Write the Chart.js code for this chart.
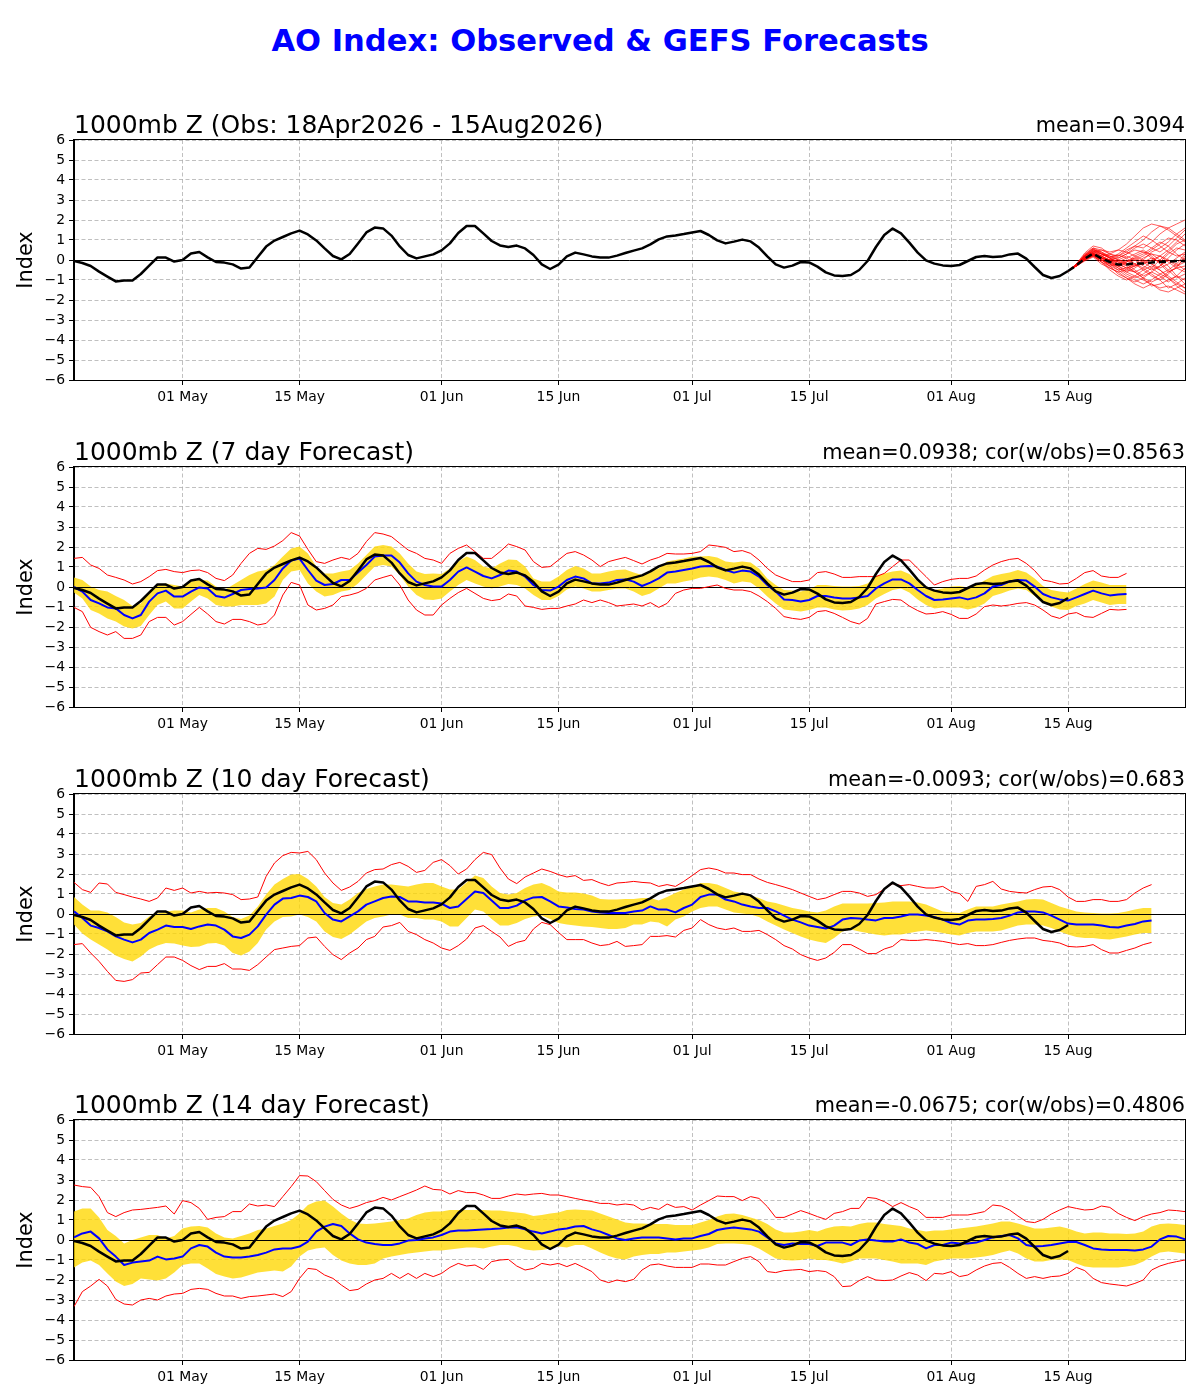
<!DOCTYPE html>
<html><head><meta charset="utf-8">
<script src="https://cdn.jsdelivr.net/npm/chart.js@4.4.1/dist/chart.umd.min.js"></script>
<style>
body{margin:0;background:#fff;width:1200px;height:1400px;position:relative;font-family:"DejaVu Sans",sans-serif;overflow:hidden}
canvas.cv{position:absolute;left:0;width:1200px;height:300px}
.t{position:absolute;line-height:1;white-space:nowrap;color:#000;font-family:"DejaVu Sans",sans-serif}
.tl{font-size:25px}
.tr{font-size:20.8px}
#main{left:0;width:1200px;text-align:center;top:26px;font-size:30.6px;font-weight:bold;color:#0000ff}
</style></head><body>
<canvas class="cv" id="c1" width="1200" height="300" style="top:120px"></canvas>
<canvas class="cv" id="c2" width="1200" height="300" style="top:447px"></canvas>
<canvas class="cv" id="c3" width="1200" height="300" style="top:774px"></canvas>
<canvas class="cv" id="c4" width="1200" height="300" style="top:1100px"></canvas>
<div class="t" id="main">AO Index: Observed &amp; GEFS Forecasts</div>
<div class="t tl" style="left:74px;top:111.8px">1000mb Z (Obs: 18Apr2026 - 15Aug2026)</div>
<div class="t tr" style="right:15px;top:115.4px">mean=0.3094</div>
<div class="t tl" style="left:74px;top:438.8px">1000mb Z (7 day Forecast)</div>
<div class="t tr" style="right:15px;top:442.4px">mean=0.0938; cor(w/obs)=0.8563</div>
<div class="t tl" style="left:74px;top:765.8px">1000mb Z (10 day Forecast)</div>
<div class="t tr" style="right:15px;top:769.4px">mean=-0.0093; cor(w/obs)=0.683</div>
<div class="t tl" style="left:74px;top:1091.8px">1000mb Z (14 day Forecast)</div>
<div class="t tr" style="right:15px;top:1095.4px">mean=-0.0675; cor(w/obs)=0.4806</div>
<script>
// x values are days since 18 Apr 2026
const tickDays = [13, 27, 44, 58, 74, 88, 105, 119];
const tickLabels = ['01 May', '15 May', '01 Jun', '15 Jun', '01 Jul', '15 Jul', '01 Aug', '15 Aug'];
const xMaxDay = 133;

// Observed AO index, 18 Apr .. 15 Aug
const obsIndex = [-0.05,-0.15,-0.3,-0.58,-0.83,-1.07,-1.03,-1.02,-0.7,-0.28,
0.13,0.12,-0.08,0.0,0.32,0.4,0.13,-0.1,-0.13,-0.22,
-0.43,-0.38,0.15,0.67,0.97,1.15,1.33,1.47,1.28,0.98,
0.58,0.2,0.03,0.3,0.83,1.38,1.62,1.58,1.22,0.68,
0.25,0.08,0.18,0.28,0.48,0.83,1.35,1.7,1.7,1.33,
0.95,0.73,0.65,0.72,0.58,0.25,-0.22,-0.45,-0.23,0.18,
0.37,0.28,0.18,0.12,0.12,0.22,0.35,0.47,0.58,0.78,
1.03,1.18,1.23,1.3,1.38,1.45,1.25,0.98,0.83,0.92,
1.02,0.93,0.62,0.18,-0.22,-0.38,-0.28,-0.1,-0.12,-0.33,
-0.62,-0.77,-0.8,-0.75,-0.5,-0.05,0.65,1.25,1.57,1.33,
0.87,0.37,-0.02,-0.18,-0.27,-0.3,-0.25,-0.05,0.15,0.2,
0.15,0.17,0.28,0.32,0.07,-0.35,-0.75,-0.9,-0.8,-0.55];

// GEFS forecast from 15 Aug (day 119 .. 133)
const ensStartDay = 119;
const ensMean = [-0.55,-0.27,0.07,0.32,0.08,-0.1,-0.23,-0.22,-0.17,-0.18,-0.13,-0.1,-0.08,-0.05,-0.05];
const ensMembers = [
[-0.55,-0.2,0.3,0.6,0.5,0.4,0.5,0.8,1.2,1.6,1.8,1.7,1.5,1.2,0.9],
[-0.55,-0.25,0.2,0.45,0.2,-0.1,-0.4,-0.6,-0.8,-1.0,-1.2,-1.4,-1.3,-1.5,-1.7],
[-0.55,-0.3,0.1,0.3,0.1,0.0,0.2,0.5,0.7,0.6,0.9,1.3,1.6,1.8,2.0],
[-0.55,-0.28,0.05,0.25,-0.1,-0.3,-0.5,-0.4,-0.2,0.1,0.3,0.2,-0.1,-0.4,-0.6],
[-0.55,-0.22,0.15,0.5,0.4,0.2,0.0,-0.2,-0.5,-0.8,-0.6,-0.3,0.1,0.5,0.8],
[-0.55,-0.3,0.0,0.2,0.0,-0.2,-0.3,-0.1,0.2,0.4,0.3,0.0,-0.3,-0.8,-1.2],
[-0.55,-0.25,0.25,0.55,0.3,0.1,-0.1,-0.3,-0.6,-0.9,-1.1,-0.9,-0.6,-0.4,-0.3],
[-0.55,-0.3,0.05,0.35,0.2,0.3,0.5,0.4,0.2,0.0,-0.2,-0.5,-0.8,-1.1,-1.4],
[-0.55,-0.27,0.1,0.3,0.0,-0.2,-0.4,-0.7,-0.9,-0.7,-0.4,0.0,0.4,0.8,1.0],
[-0.55,-0.25,0.1,0.25,0.1,0.0,-0.1,-0.2,-0.3,-0.2,0.0,0.2,0.5,0.9,1.3],
[-0.55,-0.3,-0.05,0.15,-0.2,-0.4,-0.6,-0.5,-0.6,-0.9,-1.3,-1.2,-1.0,-0.8,-1.0],
[-0.55,-0.22,0.2,0.4,0.5,0.3,0.1,0.3,0.6,0.8,0.6,0.4,0.7,1.1,1.5],
[-0.55,-0.28,0.0,0.2,-0.1,-0.5,-0.8,-1.0,-0.8,-0.5,-0.3,-0.5,-0.9,-1.3,-1.6],
[-0.55,-0.25,0.15,0.4,0.2,0.0,-0.2,-0.1,0.1,0.3,0.6,0.9,0.7,0.3,0.0],
[-0.55,-0.3,0.05,0.3,0.1,-0.1,-0.3,-0.5,-0.3,-0.1,-0.2,-0.4,-0.2,0.1,0.4],
[-0.55,-0.27,0.1,0.35,0.0,-0.3,-0.2,0.0,-0.2,-0.4,-0.7,-1.0,-1.4,-1.2,-0.9],
[-0.55,-0.22,0.2,0.5,0.3,0.1,0.3,0.6,0.9,1.2,1.0,0.7,0.4,0.2,0.3],
[-0.55,-0.28,0.05,0.3,0.1,-0.1,0.0,0.2,0.0,-0.3,-0.5,-0.3,0.0,-0.2,-0.5],
[-0.55,-0.25,0.1,0.3,0.0,-0.2,-0.5,-0.8,-1.0,-1.2,-1.0,-0.7,-0.9,-1.2,-1.4],
[-0.55,-0.3,0.0,0.25,0.05,-0.1,-0.3,-0.2,0.0,0.2,0.5,0.8,1.1,1.0,0.7],
[-0.55,-0.25,0.15,0.35,0.1,-0.1,-0.2,-0.4,-0.6,-0.4,-0.1,0.2,0.0,-0.3,0.1],
[-0.55,-0.27,0.1,0.3,0.2,0.0,-0.3,-0.6,-0.4,-0.1,0.1,-0.1,-0.5,-0.9,-0.7],
[-0.55,-0.22,0.2,0.45,0.3,0.1,-0.1,0.1,0.3,0.5,0.2,-0.2,-0.6,-0.4,0.2],
[-0.55,-0.3,0.05,0.2,-0.1,-0.4,-0.6,-0.9,-1.1,-0.9,-0.6,-0.8,-1.1,-0.8,-0.4],
[-0.55,-0.2,0.35,0.7,0.6,0.3,0.2,0.4,0.7,1.0,1.4,1.7,1.6,1.3,1.0],
[-0.55,-0.25,0.25,0.6,0.4,0.1,-0.2,-0.4,-0.3,0.0,0.4,0.6,0.9,1.3,1.6],
[-0.55,-0.3,0.05,0.25,0.0,-0.3,-0.7,-0.9,-1.2,-1.4,-1.2,-1.5,-1.6,-1.4,-1.2],
[-0.55,-0.27,0.1,0.4,0.3,0.2,0.0,-0.1,0.1,-0.1,-0.4,-0.7,-0.5,-0.2,0.3],
[-0.55,-0.22,0.2,0.55,0.35,0.15,0.25,0.1,-0.2,-0.5,-0.8,-1.0,-0.7,-0.3,-0.1],
[-0.55,-0.28,0.05,0.3,0.15,0.0,0.1,0.3,0.5,0.4,0.1,-0.1,0.3,0.6,0.5]
];

// 7-day forecast verification series (day 0 ..)
const fc7Mean = [0,-0.23,-0.65,-0.82,-1.02,-1.07,-1.4,-1.57,-1.4,-0.73,
-0.32,-0.18,-0.48,-0.48,-0.23,-0.02,-0.07,-0.45,-0.53,-0.35,
-0.15,-0.1,-0.07,-0.02,0.35,0.93,1.32,1.42,0.85,0.32,
0.1,0.15,0.35,0.35,0.72,1.1,1.52,1.58,1.58,1.22,
0.68,0.27,0.1,0.03,0.02,0.35,0.77,0.98,0.77,0.55,
0.43,0.6,0.82,0.77,0.52,0.1,-0.15,-0.18,0.02,0.35,
0.52,0.43,0.18,0.18,0.22,0.35,0.38,0.27,0.05,0.22,
0.43,0.72,0.77,0.85,0.93,1.02,1.05,1.02,0.85,0.72,
0.82,0.77,0.52,0.1,-0.23,-0.62,-0.65,-0.73,-0.65,-0.45,
-0.45,-0.52,-0.57,-0.58,-0.52,-0.45,-0.07,0.18,0.38,0.38,
0.18,-0.15,-0.45,-0.65,-0.62,-0.57,-0.52,-0.62,-0.52,-0.32,
0.02,0.1,0.27,0.35,0.32,0.02,-0.35,-0.52,-0.62,-0.68,
-0.52,-0.35,-0.18,-0.32,-0.42,-0.38,-0.35];
const fc7BandHi = [0.48,0.35,0.02,-0.15,-0.23,-0.45,-0.65,-0.95,-0.82,-0.23,
0.1,0.18,0.1,0.02,0.27,0.35,0.32,0.02,-0.15,0.1,
0.35,0.6,0.77,0.85,1.1,1.52,1.93,2.02,1.68,1.02,
0.68,0.68,0.77,0.85,1.18,1.6,2.02,2.1,2.02,1.68,
1.18,0.77,0.65,0.68,0.65,0.93,1.27,1.52,1.35,1.02,
0.93,1.18,1.38,1.35,1.02,0.43,0.27,0.27,0.52,0.85,
1.05,0.93,0.68,0.68,0.77,0.85,0.88,0.72,0.6,0.77,
0.93,1.27,1.35,1.43,1.52,1.52,1.55,1.48,1.27,1.22,
1.27,1.22,0.93,0.43,0.1,-0.15,-0.18,-0.23,-0.12,0.1,
0.1,0.05,0.02,0.02,0.05,0.18,0.52,0.68,0.77,0.82,
0.65,0.27,0.02,-0.15,-0.07,0.02,0.05,-0.02,0.1,0.32,
0.55,0.65,0.73,0.85,0.72,0.43,0.05,-0.15,-0.23,-0.28,
-0.07,0.15,0.32,0.22,0.1,0.1,0.1];
const fc7BandLo = [-0.28,-0.57,-1.15,-1.32,-1.57,-1.73,-1.98,-2.07,-1.95,-1.4,
-0.9,-0.73,-1.07,-1.07,-0.73,-0.4,-0.57,-0.9,-0.98,-0.98,
-0.9,-0.9,-0.9,-0.82,-0.48,0.35,0.77,0.85,0.18,-0.23,
-0.48,-0.4,-0.23,-0.15,0.18,0.6,1.02,1.1,1.02,0.6,
0.02,-0.4,-0.62,-0.65,-0.57,-0.23,0.1,0.35,0.18,0.02,
-0.07,0.02,0.15,0.1,-0.07,-0.4,-0.65,-0.65,-0.45,-0.12,
0.02,-0.07,-0.23,-0.23,-0.15,-0.07,-0.07,-0.23,-0.45,-0.32,
-0.07,0.18,0.18,0.27,0.35,0.48,0.52,0.48,0.35,0.18,
0.27,0.22,-0.07,-0.48,-0.82,-1.12,-1.18,-1.23,-1.15,-1.02,
-1.02,-1.12,-1.18,-1.15,-1.07,-0.9,-0.57,-0.35,-0.15,-0.07,
-0.28,-0.62,-0.9,-1.07,-1.02,-1.02,-1.02,-1.12,-1.02,-0.82,
-0.45,-0.32,-0.18,-0.07,-0.15,-0.45,-0.78,-0.98,-1.12,-1.15,
-0.95,-0.82,-0.65,-0.78,-0.9,-0.85,-0.85];
const fc7Max = [1.43,1.48,1.1,0.93,0.6,0.48,0.35,0.15,0.27,0.52,
0.82,0.88,0.77,0.72,0.82,0.85,0.72,0.43,0.32,0.6,
1.18,1.68,1.93,1.88,2.05,2.32,2.72,2.55,1.88,1.27,
1.18,1.35,1.48,1.38,1.68,2.27,2.72,2.65,2.52,2.18,
1.85,1.68,1.43,1.35,1.18,1.68,1.93,2.1,1.77,1.43,
1.43,1.77,2.15,2.02,1.85,1.27,0.98,1.02,1.35,1.68,
1.77,1.6,1.35,1.02,1.27,1.38,1.48,1.32,1.15,1.35,
1.48,1.68,1.65,1.65,1.68,1.77,2.1,2.05,1.98,1.77,
1.82,1.68,1.35,0.93,0.6,0.43,0.27,0.27,0.35,0.72,
0.77,0.65,0.48,0.48,0.52,0.52,0.52,0.68,1.02,1.35,
1.35,0.93,0.52,0.1,0.27,0.38,0.43,0.43,0.55,0.85,
1.1,1.27,1.38,1.43,1.18,0.82,0.35,0.27,0.15,0.18,
0.43,0.72,0.82,0.55,0.48,0.48,0.68];
const fc7Min = [-1.02,-1.23,-2.02,-2.23,-2.4,-2.23,-2.57,-2.57,-2.4,-1.73,
-1.52,-1.52,-1.9,-1.73,-1.37,-1.02,-1.35,-1.73,-1.85,-1.62,
-1.62,-1.73,-1.9,-1.82,-1.4,-0.4,0.23,0.1,-0.9,-1.15,
-1.07,-0.9,-0.48,-0.4,-0.28,-0.07,0.35,0.48,0.6,0.1,
-0.65,-1.15,-1.4,-1.4,-0.9,-0.57,-0.28,-0.07,-0.32,-0.57,
-0.68,-0.62,-0.35,-0.45,-0.95,-1.02,-1.12,-1.07,-1.07,-0.95,
-0.85,-0.65,-0.78,-0.65,-0.78,-0.95,-0.9,-0.85,-0.95,-0.78,
-1.02,-0.82,-0.32,-0.15,-0.07,-0.07,0.02,0.1,-0.07,-0.15,
-0.15,-0.23,-0.45,-0.73,-1.07,-1.48,-1.57,-1.62,-1.52,-1.23,
-1.18,-1.32,-1.52,-1.73,-1.85,-1.57,-0.85,-0.73,-0.62,-0.65,
-0.95,-1.18,-1.35,-1.32,-1.23,-1.37,-1.57,-1.57,-1.35,-0.98,
-0.9,-0.95,-0.9,-0.82,-0.78,-0.9,-1.15,-1.45,-1.57,-1.35,
-1.28,-1.48,-1.52,-1.32,-1.12,-1.15,-1.12];

// 10-day forecast verification series
const fc10Mean = [0.13,-0.2,-0.58,-0.7,-0.87,-1.12,-1.28,-1.42,-1.28,-0.95,
-0.78,-0.58,-0.65,-0.65,-0.75,-0.62,-0.53,-0.58,-0.78,-1.12,
-1.2,-1.03,-0.62,-0.03,0.47,0.77,0.8,0.92,0.85,0.63,
0.05,-0.28,-0.37,-0.12,0.13,0.47,0.63,0.8,0.88,0.85,
0.63,0.63,0.58,0.58,0.52,0.3,0.38,0.75,1.13,1.05,
0.68,0.3,0.3,0.42,0.68,0.83,0.85,0.63,0.38,0.33,
0.25,0.22,0.13,0.08,0.05,0.05,0.05,0.13,0.17,0.38,
0.22,0.22,0.08,0.3,0.47,0.85,0.97,0.97,0.72,0.63,
0.47,0.38,0.3,0.3,0.13,-0.08,-0.28,-0.42,-0.58,-0.65,
-0.73,-0.58,-0.28,-0.2,-0.23,-0.28,-0.32,-0.2,-0.2,-0.12,
-0.03,-0.03,-0.08,-0.15,-0.28,-0.45,-0.53,-0.33,-0.28,-0.28,
-0.25,-0.2,-0.08,0.08,0.13,0.13,0.08,-0.08,-0.28,-0.48,
-0.53,-0.53,-0.53,-0.58,-0.65,-0.67,-0.58,-0.5,-0.37,-0.32];
const fc10BandHi = [0.85,0.47,0.18,0.18,0.08,-0.15,-0.42,-0.53,-0.45,-0.12,
0.02,0.13,0.18,0.18,0.08,0.22,0.3,0.3,0.13,-0.15,
-0.25,-0.08,0.38,0.97,1.47,1.75,1.97,2.0,1.75,1.38,
0.85,0.55,0.47,0.72,1.05,1.25,1.38,1.47,1.47,1.42,
1.38,1.47,1.55,1.55,1.38,1.22,1.22,1.58,1.92,1.8,
1.38,1.05,0.97,1.05,1.3,1.47,1.55,1.38,1.13,1.08,
1.08,1.02,0.92,0.75,0.72,0.72,0.75,0.75,0.8,0.8,
0.68,0.85,1.05,1.22,1.38,1.55,1.55,1.47,1.3,1.13,
1.05,0.92,0.8,0.63,0.55,0.42,0.3,0.22,0.13,0.08,
0.18,0.38,0.52,0.52,0.52,0.52,0.55,0.58,0.63,0.63,
0.63,0.58,0.47,0.3,0.13,0.08,0.05,0.22,0.38,0.38,
0.38,0.47,0.55,0.63,0.72,0.75,0.72,0.55,0.38,0.25,
0.13,0.08,0.05,0.02,0.02,0.05,0.13,0.22,0.3,0.3];
const fc10BandLo = [-0.53,-0.98,-1.28,-1.53,-1.78,-2.08,-2.25,-2.37,-2.12,-1.78,
-1.58,-1.45,-1.48,-1.58,-1.65,-1.62,-1.48,-1.45,-1.58,-1.95,
-2.08,-1.87,-1.45,-0.78,-0.37,-0.15,-0.12,-0.03,-0.15,-0.37,
-0.87,-1.15,-1.25,-1.03,-0.7,-0.37,-0.2,-0.12,-0.03,-0.03,
-0.2,-0.2,-0.28,-0.28,-0.37,-0.62,-0.62,-0.2,0.22,0.13,
-0.25,-0.58,-0.58,-0.45,-0.25,-0.12,-0.08,-0.25,-0.45,-0.53,
-0.58,-0.62,-0.65,-0.7,-0.75,-0.75,-0.7,-0.53,-0.53,-0.37,
-0.42,-0.62,-0.28,-0.12,0.13,0.3,0.38,0.38,0.22,0.08,
0.02,-0.03,-0.15,-0.37,-0.58,-0.78,-0.95,-1.12,-1.28,-1.37,
-1.45,-1.2,-0.87,-0.78,-0.87,-0.95,-1.03,-1.08,-1.03,-1.03,
-0.95,-0.87,-0.82,-0.87,-0.95,-1.03,-1.08,-0.95,-0.87,-0.87,
-0.87,-0.82,-0.7,-0.58,-0.53,-0.53,-0.58,-0.7,-0.87,-1.03,
-1.15,-1.2,-1.2,-1.25,-1.28,-1.2,-1.12,-1.03,-0.95,-0.95];
const fc10Max = [1.58,1.22,1.08,1.55,1.5,1.08,0.97,0.85,0.75,0.63,
0.8,1.3,1.18,1.3,1.05,1.13,1.05,1.08,1.05,0.97,
0.72,0.75,0.85,1.88,2.55,2.92,3.08,3.05,3.13,2.72,
2.05,1.55,1.18,1.35,1.63,2.05,2.22,2.25,2.47,2.58,
2.38,2.08,2.18,2.58,2.72,2.42,2.0,2.25,2.72,3.08,
2.97,2.3,1.75,1.52,1.85,2.05,2.25,2.13,1.97,1.85,
1.92,1.68,1.72,1.55,1.42,1.55,1.58,1.63,1.58,1.55,
1.38,1.47,1.38,1.63,1.92,2.22,2.3,2.22,2.05,2.05,
1.97,1.97,1.75,1.58,1.47,1.35,1.22,1.05,0.88,0.72,
0.8,0.97,1.13,1.13,1.05,0.88,0.97,1.25,1.52,1.42,
1.47,1.38,1.3,1.3,1.38,1.13,1.02,0.63,1.38,1.47,
1.63,1.25,1.13,1.08,1.05,1.22,1.35,1.38,1.22,0.85,
0.63,0.63,0.72,0.72,0.63,0.63,0.72,1.05,1.3,1.47];
const fc10Min = [-1.53,-1.48,-1.95,-2.37,-2.87,-3.32,-3.37,-3.28,-2.95,-2.92,
-2.53,-2.15,-2.15,-2.32,-2.58,-2.78,-2.62,-2.62,-2.48,-2.75,
-2.75,-2.82,-2.53,-2.15,-1.78,-1.7,-1.62,-1.58,-1.2,-1.15,
-1.62,-2.03,-2.28,-1.95,-1.7,-1.28,-1.12,-0.65,-0.58,-0.42,
-0.87,-1.03,-1.28,-1.45,-1.7,-1.82,-1.58,-1.25,-0.7,-0.58,
-0.87,-1.15,-1.62,-1.42,-1.32,-0.75,-0.42,-0.53,-0.92,-1.28,
-1.28,-1.28,-1.45,-1.58,-1.53,-1.37,-1.62,-1.58,-1.53,-1.12,
-1.12,-1.08,-1.15,-0.82,-0.7,-0.28,-0.53,-0.7,-0.78,-0.7,
-0.87,-0.87,-0.82,-1.03,-1.28,-1.58,-1.75,-2.03,-2.2,-2.32,
-2.2,-1.92,-1.53,-1.53,-1.75,-1.98,-1.98,-1.75,-1.62,-1.28,
-1.32,-1.32,-1.28,-1.32,-1.37,-1.45,-1.53,-1.48,-1.58,-1.58,
-1.53,-1.42,-1.32,-1.25,-1.2,-1.2,-1.32,-1.37,-1.45,-1.62,
-1.65,-1.62,-1.53,-1.78,-1.95,-1.95,-1.82,-1.7,-1.53,-1.42];

// 14-day forecast verification series
const fc14Mean = [0.13,0.33,0.42,0.08,-0.47,-0.83,-1.25,-1.13,-1.08,-1.03,
-0.83,-0.97,-0.92,-0.83,-0.42,-0.25,-0.33,-0.63,-0.83,-0.88,
-0.88,-0.83,-0.75,-0.63,-0.47,-0.42,-0.42,-0.33,-0.08,0.42,
0.67,0.8,0.7,0.33,0.03,-0.13,-0.2,-0.25,-0.25,-0.17,
-0.03,0,0.08,0.13,0.25,0.42,0.47,0.47,0.5,0.53,
0.55,0.58,0.63,0.63,0.53,0.42,0.33,0.42,0.53,0.58,
0.67,0.7,0.53,0.42,0.25,0.08,0,0.08,0.13,0.13,
0.13,0.08,0.03,0.08,0.08,0.2,0.3,0.5,0.58,0.63,
0.58,0.53,0.42,0.13,-0.17,-0.25,-0.17,-0.2,-0.2,-0.3,
-0.13,-0.13,-0.13,-0.25,-0.03,0.03,-0.03,-0.08,-0.08,0.03,
-0.13,-0.2,-0.42,-0.25,-0.25,-0.13,-0.17,-0.17,-0.13,0,
0.13,0.2,0.25,0.08,-0.25,-0.33,-0.3,-0.25,-0.17,-0.1,
-0.1,-0.25,-0.42,-0.47,-0.5,-0.5,-0.5,-0.53,-0.47,-0.33,
0.03,0.2,0.17,0.03];
const fc14BandHi = [1.42,1.58,1.58,1.13,0.5,0.2,-0.17,0,0.13,0.25,
0.25,0.08,0.2,0.58,0.67,0.7,0.63,0.33,0.13,0.08,
0.2,0.33,0.5,0.58,0.7,0.83,1.0,1.33,1.75,1.92,
1.97,1.67,1.33,1.03,0.83,0.8,0.83,0.87,0.92,1.0,
1.08,1.25,1.37,1.42,1.42,1.5,1.5,1.5,1.5,1.5,
1.47,1.47,1.42,1.37,1.33,1.2,1.25,1.33,1.37,1.5,
1.53,1.5,1.47,1.33,1.17,1.03,0.87,0.83,0.83,0.8,
0.8,0.8,0.75,0.75,0.75,0.87,1.0,1.17,1.3,1.33,
1.25,1.13,1.0,0.8,0.53,0.37,0.37,0.42,0.5,0.42,
0.58,0.67,0.7,0.67,0.8,0.87,0.87,0.8,0.75,0.7,
0.58,0.5,0.42,0.47,0.47,0.53,0.58,0.63,0.67,0.75,
0.83,0.92,0.92,0.83,0.7,0.58,0.58,0.63,0.67,0.58,
0.42,0.33,0.37,0.37,0.33,0.33,0.3,0.33,0.42,0.67,
0.8,0.83,0.8,0.75];
const fc14BandLo = [-1.37,-1.13,-1.03,-1.25,-1.67,-2.08,-2.3,-2.2,-1.92,-1.97,
-2.03,-1.92,-1.63,-1.25,-1.17,-1.17,-1.42,-1.7,-1.83,-1.92,
-1.87,-1.75,-1.63,-1.58,-1.53,-1.58,-1.33,-0.83,-0.53,-0.42,
-0.37,-0.75,-1.03,-1.17,-1.25,-1.25,-1.17,-0.92,-0.83,-0.75,
-0.67,-0.63,-0.58,-0.53,-0.53,-0.47,-0.42,-0.37,-0.37,-0.42,
-0.33,-0.25,-0.25,-0.33,-0.47,-0.53,-0.5,-0.42,-0.33,-0.37,
-0.25,-0.25,-0.42,-0.63,-0.8,-0.92,-0.97,-0.83,-0.75,-0.7,
-0.7,-0.63,-0.63,-0.58,-0.53,-0.47,-0.37,-0.2,-0.17,-0.17,
-0.2,-0.25,-0.42,-0.67,-0.92,-1.0,-1.03,-1.0,-0.92,-1.0,
-1.0,-1.08,-1.17,-1.08,-0.92,-0.92,-0.92,-1.0,-1.08,-1.17,
-1.17,-1.17,-1.25,-1.08,-1.0,-0.92,-0.92,-0.92,-0.87,-0.83,
-0.75,-0.63,-0.53,-0.67,-0.92,-1.08,-1.08,-1.0,-0.97,-1.0,
-1.17,-1.33,-1.37,-1.37,-1.37,-1.37,-1.33,-1.25,-1.08,-0.83,
-0.63,-0.58,-0.63,-0.67];
const fc14Max = [2.75,2.67,2.63,2.17,1.37,1.17,1.37,1.5,1.53,1.58,
1.63,1.7,1.3,1.97,1.87,1.58,1.03,1.13,1.17,1.42,
1.42,1.8,1.7,1.75,1.67,2.17,2.67,3.22,3.2,2.92,
2.47,2.03,1.75,1.58,1.7,1.87,1.97,2.13,2.0,2.17,
2.33,2.5,2.7,2.53,2.5,2.3,2.47,2.37,2.37,2.25,
2.08,2.08,2.2,2.3,2.25,2.3,2.33,2.25,2.25,2.17,
2.08,2.0,1.92,1.83,1.83,1.75,1.8,1.75,1.5,1.63,
1.53,1.8,1.63,1.67,1.5,1.75,1.97,2.2,2.17,2.17,
1.97,2.17,2.08,1.67,1.13,1.13,1.3,1.47,1.33,1.17,
1.03,1.33,1.42,1.58,1.58,2.13,2.08,1.92,1.67,1.87,
1.67,1.5,1.13,1.13,1.13,1.25,1.25,1.25,1.33,1.42,
1.75,1.7,1.5,1.2,0.92,0.87,1.03,1.3,1.5,1.67,
1.58,1.5,1.53,1.7,1.63,1.33,1.13,0.97,1.17,1.3,
1.37,1.5,1.47,1.42];
const fc14Min = [-3.33,-2.58,-2.3,-1.97,-2.3,-2.97,-3.2,-3.25,-3.0,-2.92,
-3.0,-2.8,-2.7,-2.67,-2.47,-2.42,-2.47,-2.67,-2.8,-2.8,
-2.92,-2.83,-2.8,-2.75,-2.7,-2.83,-2.58,-1.92,-1.42,-1.47,
-1.75,-1.92,-2.25,-2.53,-2.47,-2.2,-2.0,-1.92,-1.67,-1.92,
-1.67,-1.92,-1.67,-1.83,-1.67,-1.37,-1.17,-1.3,-1.25,-1.47,
-1.08,-1.0,-0.97,-1.3,-1.5,-1.42,-1.17,-1.25,-1.17,-1.33,
-1.17,-1.37,-1.58,-2.0,-2.13,-2.0,-2.08,-1.97,-1.5,-1.25,
-1.2,-1.3,-1.37,-1.37,-1.37,-1.2,-1.2,-1.25,-1.25,-1.08,
-0.92,-0.83,-1.08,-1.58,-1.63,-1.53,-1.5,-1.47,-1.58,-1.53,
-1.58,-1.83,-2.33,-2.3,-2.03,-1.83,-2.0,-2.03,-2.0,-1.8,
-1.63,-1.75,-2.03,-1.67,-1.7,-1.58,-1.83,-1.75,-1.5,-1.3,
-1.17,-1.13,-1.37,-1.67,-1.92,-1.83,-1.92,-1.83,-1.8,-1.67,
-1.37,-1.53,-1.92,-2.13,-2.2,-2.25,-2.3,-2.17,-2.0,-1.5,
-1.3,-1.17,-1.08,-1.0];

// ---------- rendering ----------
const FONT = '"DejaVu Sans", sans-serif';
const pts = (arr, start) => arr.map((v, i) => ({ x: (start || 0) + i, y: v }));

function lineDs(label, arr, color, width, order, extra) {
  return Object.assign({
    label, data: pts(arr, 0), borderColor: color, borderWidth: width,
    pointRadius: 0, pointHoverRadius: 0, tension: 0, fill: false, order,
    borderJoinStyle: 'round', borderCapStyle: 'butt'
  }, extra || {});
}

function drawZero(chart) {
  const { ctx, chartArea: ca, scales } = chart;
  const py = Math.round(scales.y.getPixelForValue(0)) + 0.5;
  ctx.save();
  ctx.strokeStyle = '#000'; ctx.lineWidth = 1; ctx.setLineDash([]);
  ctx.beginPath(); ctx.moveTo(ca.left, py); ctx.lineTo(ca.right, py); ctx.stroke();
  ctx.restore();
}
const zeroLinePlugin = {
  id: 'zeroLine',
  beforeDatasetsDraw(chart, args, opts) { if (!opts.afterBand) drawZero(chart); },
  afterDatasetDraw(chart, args, opts) {
    if (opts.afterBand && chart.data.datasets[args.index].bandLower) drawZero(chart);
  }
};
const framePlugin = {
  id: 'frame',
  afterDraw(chart) {
    const { ctx, chartArea: ca } = chart;
    ctx.save();
    ctx.strokeStyle = '#000'; ctx.lineWidth = 1; ctx.setLineDash([]);
    ctx.strokeRect(Math.round(ca.left) - 0.5, Math.round(ca.top) - 0.5,
      Math.round(ca.right - ca.left) + 1, Math.round(ca.bottom - ca.top) + 1);
    ctx.restore();
  }
};

function buildChart(id, datasets, afterBand) {
  return new Chart(document.getElementById(id), {
    type: 'line',
    data: { datasets },
    options: {
      responsive: false, animation: false, events: [],
      layout: { padding: { top: 20, right: 15, left: 0, bottom: 0 } },
      plugins: { legend: { display: false }, tooltip: { enabled: false }, zeroLine: { afterBand } },
      scales: {
        x: {
          type: 'linear', min: 0, max: xMaxDay,
          afterBuildTicks: ax => { ax.ticks = tickDays.map(v => ({ value: v })); },
          afterFit: s => { s.height = 40; },
          ticks: {
            autoSkip: false, maxRotation: 0, padding: 4, color: '#000',
            font: { family: FONT, size: 13.9 },
            callback: v => { const k = tickDays.indexOf(v); return k >= 0 ? tickLabels[k] : ''; }
          },
          grid: { color: '#b0b0b0', lineWidth: 0.8, tickLength: 5, tickColor: '#000', tickWidth: 1, tickBorderDash: [] },
          border: { display: true, color: '#000', width: 1, dash: [4, 2.5] }
        },
        y: {
          min: -6, max: 6,
          afterFit: s => { s.width = 74; },
          ticks: {
            stepSize: 1, padding: 4, color: '#000',
            font: { family: FONT, size: 13.9 },
            callback: v => (v < 0 ? '\u2212' + Math.abs(v) : String(v))
          },
          grid: { color: '#b0b0b0', lineWidth: 0.8, tickLength: 5, tickColor: '#000', tickWidth: 1, tickBorderDash: [] },
          border: { display: true, color: '#000', width: 1, dash: [4, 2.5] },
          title: { display: true, text: 'Index', color: '#000', font: { family: FONT, size: 20.8 }, padding: { top: 14, bottom: 0 } }
        }
      }
    },
    plugins: [zeroLinePlugin, framePlugin]
  });
}

const YELLOW = 'rgba(255,215,0,0.78)';
const NONE = 'rgba(0,0,0,0)';

// Panel 1: observations + ensemble spaghetti
const p1 = [lineDs('obs', obsIndex, '#000', 2.5, 1)];
p1.push(lineDs('ens mean', ensMean, '#000', 2.5, 2, { data: pts(ensMean, ensStartDay), borderDash: [7, 4] }));
ensMembers.forEach((m, k) => {
  p1.push(lineDs('member ' + (k + 1), m, 'rgba(255,0,0,0.8)', 0.8, 3, { data: pts(m, ensStartDay) }));
});
buildChart('c1', p1, false);

function forecastPanel(id, mean, hi, lo, mx, mn) {
  const ds = [
    lineDs('band hi', hi, NONE, 0, 6, { fill: '+1', backgroundColor: YELLOW }),
    lineDs('band lo', lo, NONE, 0, 5, { bandLower: true }),
    lineDs('max', mx, '#ff0000', 1, 4),
    lineDs('min', mn, '#ff0000', 1, 4),
    lineDs('mean', mean, '#0000ff', 2, 2),
    lineDs('obs', obsIndex, '#000', 2.5, 1)
  ];
  buildChart(id, ds, true);
}
forecastPanel('c2', fc7Mean, fc7BandHi, fc7BandLo, fc7Max, fc7Min);
forecastPanel('c3', fc10Mean, fc10BandHi, fc10BandLo, fc10Max, fc10Min);
forecastPanel('c4', fc14Mean, fc14BandHi, fc14BandLo, fc14Max, fc14Min);
</script>
</body></html>
